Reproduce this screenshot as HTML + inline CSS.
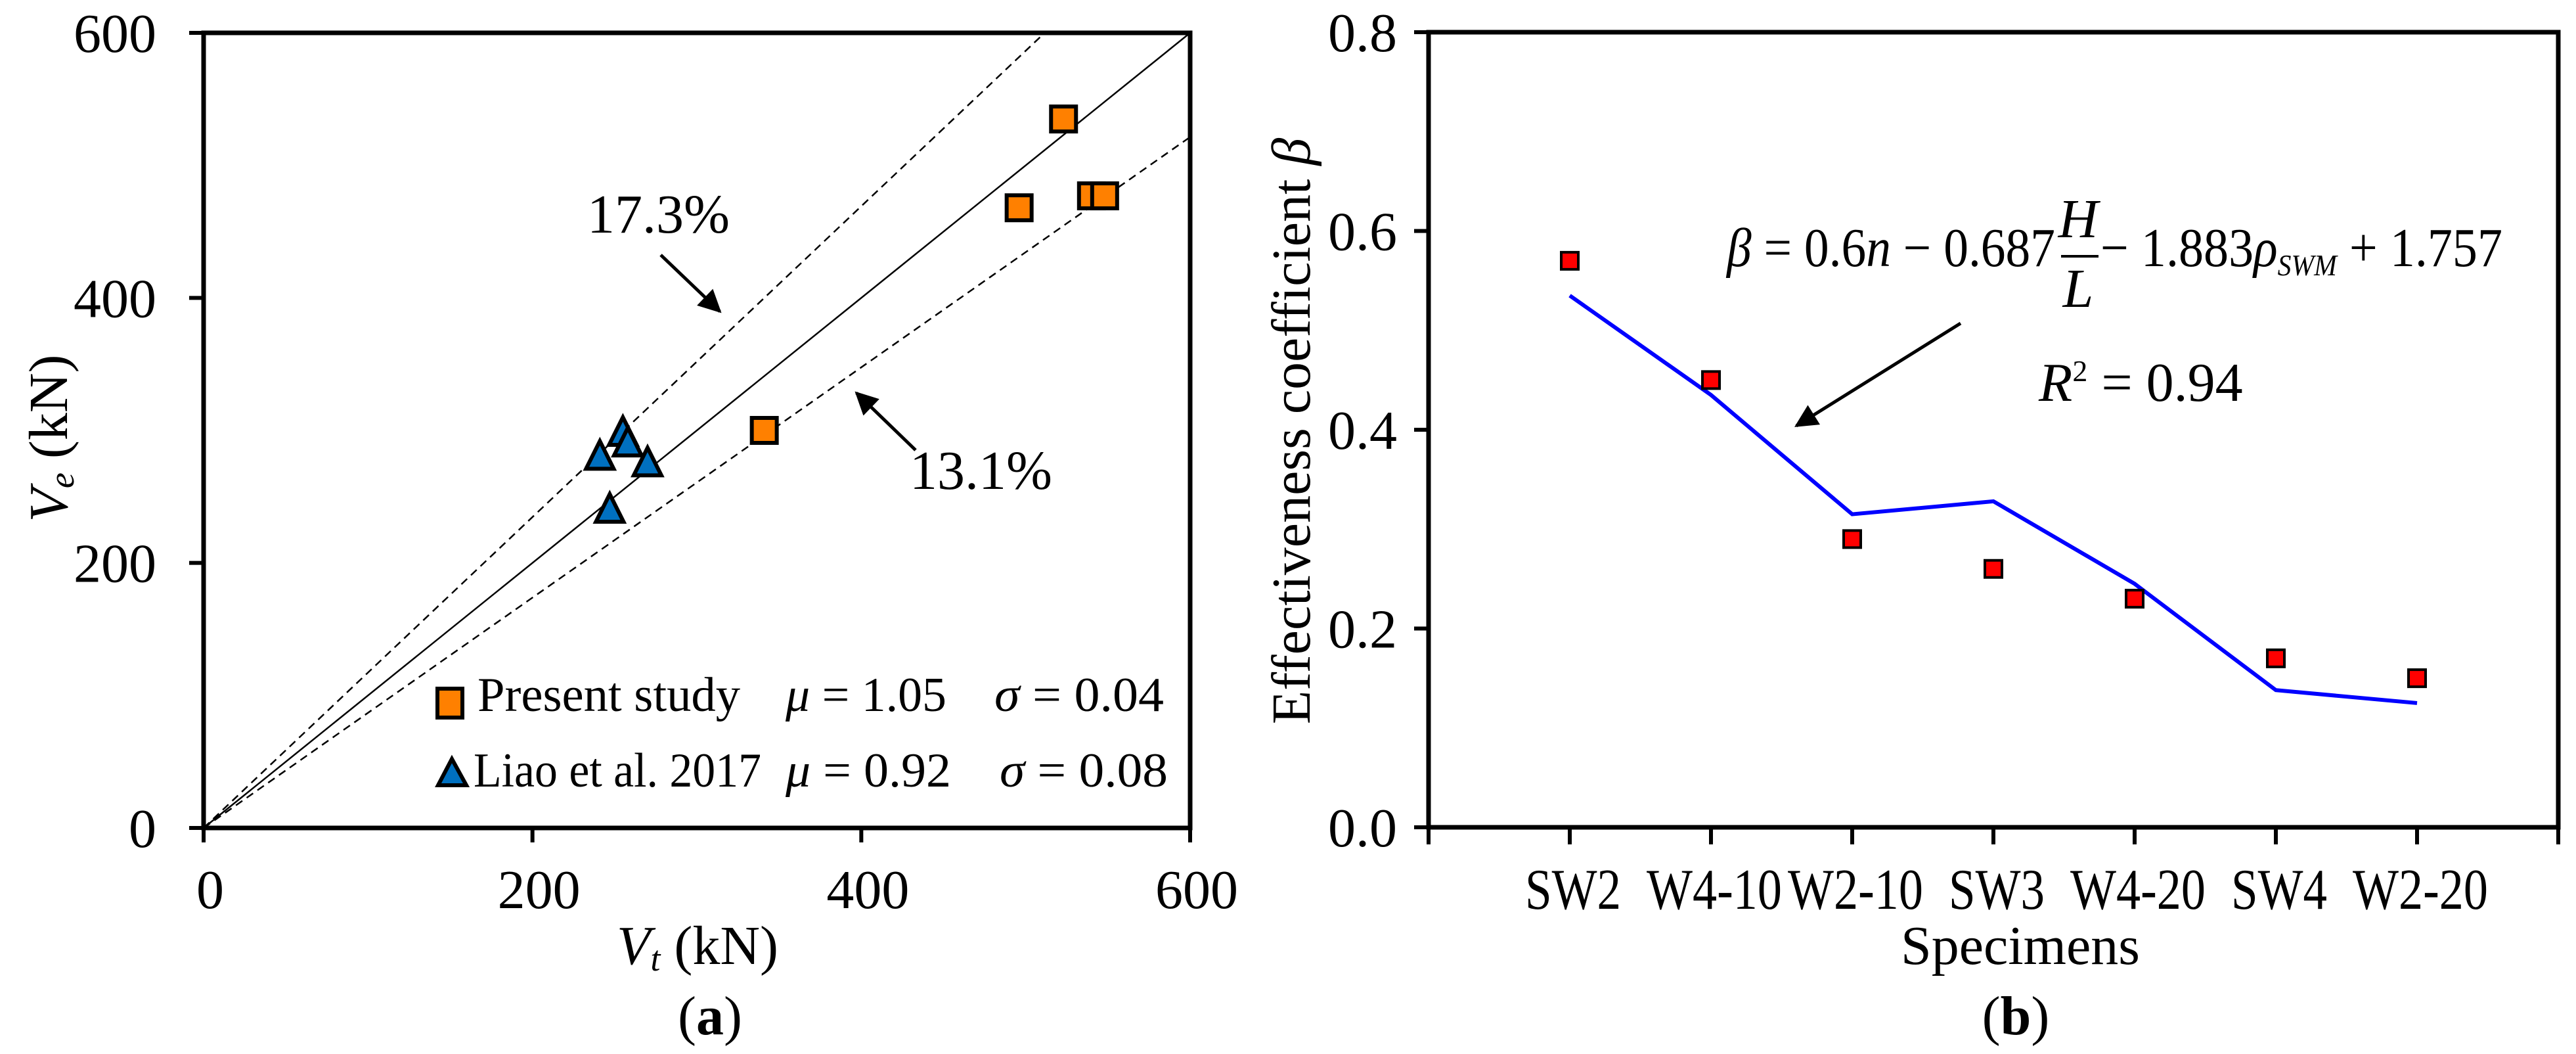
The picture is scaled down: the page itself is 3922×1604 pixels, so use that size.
<!DOCTYPE html>
<html><head><meta charset="utf-8"><style>
html,body{margin:0;padding:0;background:#fff}
svg{display:block;font-family:"Liberation Serif",serif}
</style></head><body>
<svg id="fig" width="3922" height="1604" viewBox="0 0 3922 1604" xmlns="http://www.w3.org/2000/svg">
<defs><marker id="ah" viewBox="0 0 10 10" refX="9" refY="5" markerWidth="9" markerHeight="7" orient="auto"><path d="M0,0 L10,5 L0,10 z" fill="#000"/></marker></defs>
<g id="chartA"></g>
<g id="chartB"></g>
</svg>
<script>
// ---- Chart (a) data ----
const aTicks = [0, 200, 400, 600];
const presentVt = [523, 496, 540, 548, 341];
const presentVe = [535, 468, 477, 477, 300];
const liaoVt = [241, 255, 258, 270, 247];
const liaoVe = [280, 298, 290, 275, 240];
const upperSlope = [1.173];
const lowerSlope = [0.869];
// ---- Chart (b) data ----
const categories = ["SW2", "W4-10", "W2-10", "SW3", "W4-20", "SW4", "W2-20"];
const betaTest = [0.57, 0.45, 0.29, 0.26, 0.23, 0.17, 0.15];
const betaFit = [0.535, 0.435, 0.315, 0.328, 0.245, 0.138, 0.125];
const bTicks = [0.0, 0.2, 0.4, 0.6, 0.8];
const bTickLabels = ["0.0", "0.2", "0.4", "0.6", "0.8"];

const NS = "http://www.w3.org/2000/svg";
const FS = 84;
function mk(parent, tag, attrs, text) {
  const e = document.createElementNS(NS, tag);
  for (const k in attrs) e.setAttribute(k, attrs[k]);
  if (text !== undefined) e.textContent = text;
  parent.appendChild(e);
  return e;
}

// ===== Chart A =====
(function () {
  const g = document.getElementById('chartA');
  const X0 = 310, X1 = 1812, Y0 = 1260, Y1 = 50;
  const sx = v => X0 + (v / 600) * (X1 - X0);
  const sy = v => Y0 - (v / 600) * (Y0 - Y1);
  let e;
  e = mk(g, 'line', {x1: sx(0), y1: sy(0), x2: sx(600), y2: sy(600), stroke: '#000', 'stroke-width': 2.5});
  
  
  const ux = 600 / upperSlope[0];
  e = mk(g, 'line', {x1: sx(0), y1: sy(0), x2: sx(ux), y2: sy(600), stroke: '#000', 'stroke-width': 2.5, 'stroke-dasharray': '12,8'});
  
  
  e = mk(g, 'line', {x1: sx(0), y1: sy(0), x2: sx(600), y2: sy(600 * lowerSlope[0]), stroke: '#000', 'stroke-width': 2.5, 'stroke-dasharray': '12,8'});
  
  
  e = mk(g, 'path', {d: `M${X0},${Y1} H${X1} V${Y0} H${X0} Z`, fill: 'none', stroke: '#000', 'stroke-width': 7});
  
  
  aTicks.forEach(t => {
    let tk = mk(g, 'line', {x1: X0 - 22, y1: sy(t), x2: X0, y2: sy(t), stroke: '#000', 'stroke-width': 6});
    
    
    let lb = mk(g, 'text', {x: X0 - 72, y: sy(t) + 29, 'font-size': FS, 'text-anchor': 'end'}, String(t));
    
    
    tk = mk(g, 'line', {x1: sx(t), y1: Y0, x2: sx(t), y2: Y0 + 22, stroke: '#000', 'stroke-width': 6});
    
    
    lb = mk(g, 'text', {x: sx(t) + 10, y: Y0 + 122, 'font-size': FS, 'text-anchor': 'middle'}, String(t));
    
    
  });
  e = mk(g, 'line', {x1: 1006, y1: 388, x2: 1096, y2: 474, stroke: '#000', 'stroke-width': 5, 'marker-end': 'url(#ah)'});
  
  
  e = mk(g, 'text', {x: 894, y: 354, 'font-size': FS}, '17.3%');
  
  
  e = mk(g, 'line', {x1: 1394, y1: 685, x2: 1304, y2: 598, stroke: '#000', 'stroke-width': 5, 'marker-end': 'url(#ah)'});
  
  
  e = mk(g, 'text', {x: 1385, y: 744, 'font-size': FS}, '13.1%');
  
  
  presentVt.forEach((v, i) => {
    const m = mk(g, 'rect', {x: sx(v) - 19, y: sy(presentVe[i]) - 19, width: 38, height: 38, fill: '#ff8000', stroke: '#000', 'stroke-width': 6});
    
    
  });
  liaoVt.forEach((v, i) => {
    const cx = sx(v), cy = sy(liaoVe[i]);
    const m = mk(g, 'path', {d: `M${cx},${cy - 24} L${cx + 21},${cy + 18} L${cx - 21},${cy + 18} Z`, fill: '#0070c0', stroke: '#000', 'stroke-width': 6});
    
    
  });
  // legend
  e = mk(g, 'rect', {x: 666, y: 1048, width: 38, height: 44, fill: '#ff8000', stroke: '#000', 'stroke-width': 6});
  
  
  e = mk(g, 'text', {x: 727, y: 1082, 'font-size': 74, textLength: 400, lengthAdjust: 'spacingAndGlyphs'}, 'Present study');
  
  
  e = mk(g, 'text', {x: 1196, y: 1082, 'font-size': 74, textLength: 245, lengthAdjust: 'spacingAndGlyphs'});
  
  
  e.innerHTML = '<tspan font-style="italic">μ</tspan> = 1.05';
  e = mk(g, 'text', {x: 1514, y: 1082, 'font-size': 74, textLength: 258, lengthAdjust: 'spacingAndGlyphs'});
  
  
  e.innerHTML = '<tspan font-style="italic">σ</tspan> = 0.04';
  e = mk(g, 'path', {d: 'M688,1155 L710,1195 L667,1195 Z', fill: '#0070c0', stroke: '#000', 'stroke-width': 6});
  
  
  e = mk(g, 'text', {x: 721, y: 1197, 'font-size': 74, textLength: 438, lengthAdjust: 'spacingAndGlyphs'}, 'Liao et al. 2017');
  
  
  e = mk(g, 'text', {x: 1196, y: 1197, 'font-size': 74, textLength: 252, lengthAdjust: 'spacingAndGlyphs'});
  
  
  e.innerHTML = '<tspan font-style="italic">μ</tspan> = 0.92';
  e = mk(g, 'text', {x: 1522, y: 1197, 'font-size': 74, textLength: 256, lengthAdjust: 'spacingAndGlyphs'});
  
  
  e.innerHTML = '<tspan font-style="italic">σ</tspan> = 0.08';
  e = mk(g, 'text', {x: 1062, y: 1467, 'font-size': FS, 'text-anchor': 'middle'});
  
  
  e.innerHTML = '<tspan font-style="italic">V</tspan><tspan font-style="italic" font-size="54" dy="10">t</tspan><tspan dy="-10"> (kN)</tspan>';
  e = mk(g, 'text', {x: 0, y: 0, 'font-size': FS, 'text-anchor': 'middle', transform: 'translate(102,667) rotate(-90)'});
  
  
  e.innerHTML = '<tspan font-style="italic">V</tspan><tspan font-style="italic" font-size="54" dy="10">e</tspan><tspan dy="-10"> (kN)</tspan>';
  e = mk(g, 'text', {x: 1081, y: 1574, 'font-size': FS, 'text-anchor': 'middle'});
  
  
  e.innerHTML = '(<tspan font-weight="bold">a</tspan>)';
})();

// ===== Chart B =====
(function () {
  const g = document.getElementById('chartB');
  const X0 = 2175, X1 = 3895, Y0 = 1259, Y1 = 49;
  const n = categories.length + 1;
  const sx = i => X0 + ((i + 1) / n) * (X1 - X0);
  const sy = v => Y0 - (v / 0.8) * (Y0 - Y1);
  let e = mk(g, 'path', {d: `M${X0},${Y1} H${X1} V${Y0} H${X0} Z`, fill: 'none', stroke: '#000', 'stroke-width': 7});
  
  
  bTicks.forEach((t, i) => {
    const tk = mk(g, 'line', {x1: X0 - 22, y1: sy(t), x2: X0, y2: sy(t), stroke: '#000', 'stroke-width': 6});
    
    
    const lb = mk(g, 'text', {x: X0 - 48, y: sy(t) + 29, 'font-size': FS, 'text-anchor': 'end'}, bTickLabels[i]);
    
    
  });
  for (let i = -1; i <= categories.length; i++) {
    const tk = mk(g, 'line', {x1: sx(i), y1: Y0, x2: sx(i), y2: Y0 + 26, stroke: '#000', 'stroke-width': 6});
    
    
  }
  categories.forEach((c, i) => {
    const lb = mk(g, 'text', {x: sx(i) + 5, y: Y0 + 124, 'font-size': 88, 'text-anchor': 'middle', textLength: c.length > 3 ? 206 : 146, lengthAdjust: 'spacingAndGlyphs'}, c);
    
    
  });
  const pts = betaFit.map((v, i) => `${sx(i)},${sy(v)}`).join(' ');
  e = mk(g, 'polyline', {points: pts, fill: 'none', stroke: '#0000ff', 'stroke-width': 6});
  
  
  betaTest.forEach((v, i) => {
    const m = mk(g, 'rect', {x: sx(i) - 13, y: sy(v) - 13, width: 26, height: 26, fill: '#ff0000', stroke: '#000', 'stroke-width': 4});
    
    
  });
  e = mk(g, 'text', {x: 2629, y: 405, 'font-size': FS, textLength: 500, lengthAdjust: 'spacingAndGlyphs'});
  
  
  e.innerHTML = '<tspan font-style="italic">β</tspan> = 0.6<tspan font-style="italic">n</tspan> − 0.687';
  e = mk(g, 'text', {x: 3164, y: 361, 'font-size': FS, 'font-style': 'italic', 'text-anchor': 'middle'}, 'H');
  
  
  e = mk(g, 'line', {x1: 3138, y1: 390, x2: 3195, y2: 390, stroke: '#000', 'stroke-width': 4});
  
  
  e = mk(g, 'text', {x: 3164, y: 467, 'font-size': FS, 'font-style': 'italic', 'text-anchor': 'middle'}, 'L');
  
  
  e = mk(g, 'text', {x: 3198, y: 405, 'font-size': FS, textLength: 612, lengthAdjust: 'spacingAndGlyphs'});
  
  
  e.innerHTML = '− 1.883<tspan font-style="italic">ρ</tspan><tspan font-style="italic" font-size="46" dy="14">SWM</tspan><tspan dy="-14"> + 1.757</tspan>';
  e = mk(g, 'text', {x: 3104, y: 610, 'font-size': FS});
  
  
  e.innerHTML = '<tspan font-style="italic">R</tspan><tspan font-size="46" dy="-30">2</tspan><tspan dy="30"> = 0.94</tspan>';
  e = mk(g, 'line', {x1: 2985, y1: 492, x2: 2735, y2: 648, stroke: '#000', 'stroke-width': 5, 'marker-end': 'url(#ah)'});
  
  
  e = mk(g, 'text', {x: 0, y: 0, 'font-size': FS, 'text-anchor': 'middle', transform: 'translate(1994,656) rotate(-90)'});
  
  
  e.innerHTML = 'Effectiveness coefficient <tspan font-style="italic">β</tspan>';
  e = mk(g, 'text', {x: 3076, y: 1467, 'font-size': FS, 'text-anchor': 'middle'}, 'Specimens');
  
  
  e = mk(g, 'text', {x: 3069, y: 1574, 'font-size': FS, 'text-anchor': 'middle'});
  
  
  e.innerHTML = '(<tspan font-weight="bold">b</tspan>)';
})();
</script>
</body></html>
